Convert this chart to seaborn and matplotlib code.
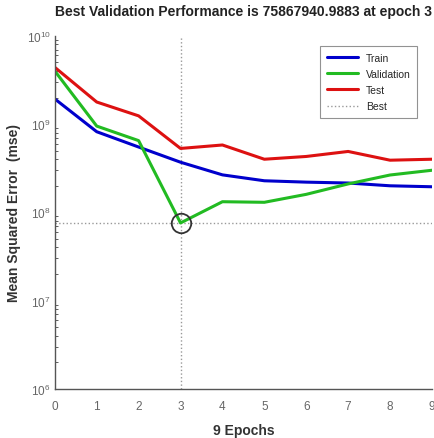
import numpy as np
import pandas as pd
import matplotlib
matplotlib.use("Agg")
import matplotlib.pyplot as plt
import seaborn as sns

epochs = [0, 1, 2, 3, 4, 5, 6, 7, 8, 9]
train = [1.93e9, 8.2e8, 5.5e8, 3.7e8, 2.66e8, 2.28e8, 2.2e8, 2.15e8, 2.0e8, 1.95e8]
validation = [4.0e9, 9.5e8, 6.5e8, 75867940.9883, 1.32e8, 1.3e8, 1.6e8, 2.1e8, 2.65e8, 3.0e8]
test = [4.4e9, 1.78e9, 1.24e9, 5.3e8, 5.8e8, 4.0e8, 4.3e8, 4.9e8, 3.9e8, 4.0e8]
best_epoch = 3
best_value = 75867940.9883
series_names = ["Train", "Validation", "Test"]
series_colors = ["#0000cc", "#22bb22", "#dd1111"]

sns.set_style("white")
plt.rcParams["font.family"] = ["Liberation Sans", "DejaVu Sans"]

df = pd.DataFrame({
    "epoch": epochs * 3,
    "mse": train + validation + test,
    "set": ["Train"] * 10 + ["Validation"] * 10 + ["Test"] * 10,
})

fig = plt.figure(figsize=(4.35, 4.39), dpi=100)
ax = fig.add_axes([0.126, 0.112, 0.867, 0.804])

sns.lineplot(data=df, x="epoch", y="mse", hue="set", hue_order=series_names,
             palette=series_colors, linewidth=2.2, ax=ax, legend=False)

ax.set_yscale("log")
ax.axvline(best_epoch, color="#999999", linestyle=":", linewidth=1, zorder=0)
ax.axhline(best_value, color="#999999", linestyle=":", linewidth=1, zorder=0)
ax.plot([best_epoch], [best_value], marker="o", markersize=14, markerfacecolor="none",
        markeredgecolor="#333333", markeredgewidth=1.3, linestyle="none")

ax.set_xlim(0, 9)
ax.set_ylim(1e6, 1e10)
ax.set_xticks(epochs)
ax.set_yticks([1e6, 1e7, 1e8, 1e9, 1e10])
ax.tick_params(axis="both", which="both", direction="in", top=False, right=False,
               labelsize=8.5, colors="#444444", labelcolor="#666666")
ax.tick_params(axis="both", which="major", length=4)
ax.tick_params(axis="x", which="major", pad=8)
ax.tick_params(axis="y", which="major", pad=3)
ax.tick_params(axis="y", which="minor", length=2, left=True)
for s in ["top", "right"]:
    ax.spines[s].set_visible(False)
for s in ["left", "bottom"]:
    ax.spines[s].set_color("#555555")
    ax.spines[s].set_linewidth(1)

ax.set_title("Best Validation Performance is 75867940.9883 at epoch 3",
             fontsize=10, fontweight="bold", color="#222222", pad=15)
ax.set_xlabel("9 Epochs", fontsize=10, fontweight="bold", color="#333333", labelpad=8)
ax.set_ylabel("Mean Squared Error  (mse)", fontsize=10, fontweight="bold", color="#333333",
              labelpad=4)

from matplotlib.lines import Line2D
handles = [Line2D([], [], color=c, linewidth=2.2) for c in series_colors]
handles.append(Line2D([], [], color="#999999", linestyle=":", linewidth=1))
leg = ax.legend(handles, series_names + ["Best"], loc="upper right",
                bbox_to_anchor=(0.975, 0.985), fontsize=7.5, frameon=True, fancybox=False,
                handlelength=3.0, borderpad=0.6, labelspacing=0.6)
leg.get_frame().set_edgecolor("#777777")
leg.get_frame().set_linewidth(0.8)

fig.savefig("out.png", dpi=100)
